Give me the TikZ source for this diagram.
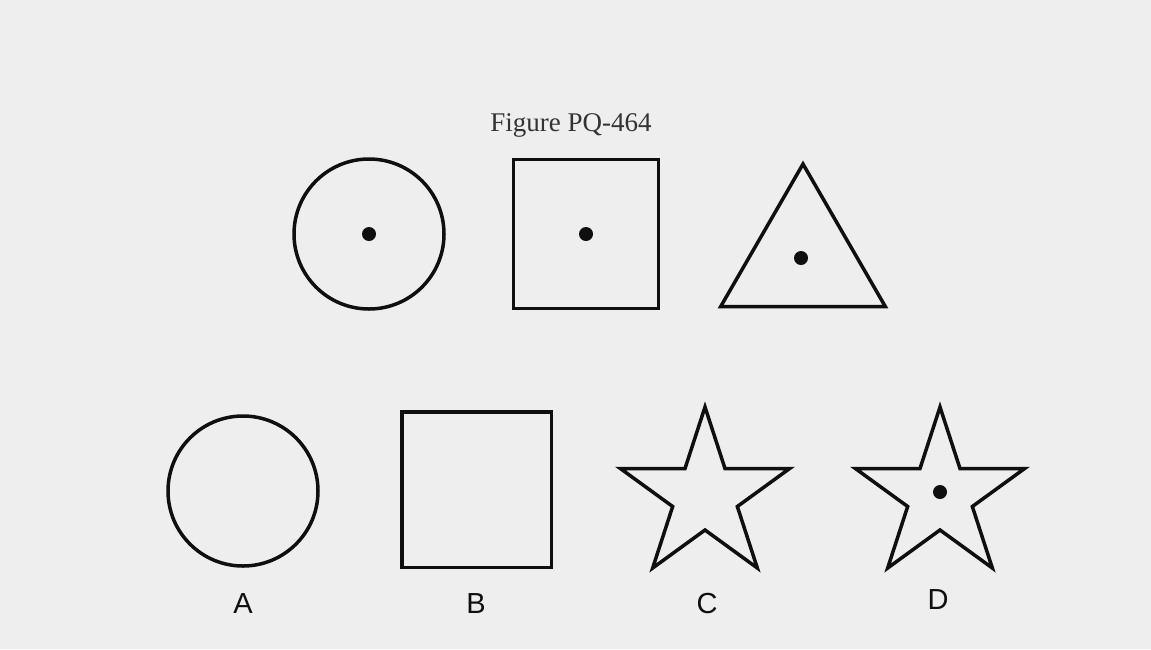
\documentclass[tikz,border=0pt]{standalone}
\usepackage{fontspec}
\setmainfont{Liberation Serif}
\setsansfont{Liberation Sans}
\usetikzlibrary{shapes.geometric, positioning}
\definecolor{paper}{RGB}{238,238,238}
\definecolor{ink}{RGB}{15,15,15}

\begin{document}
\begin{tikzpicture}[
    x=1pt, y=-1pt,
    figure/.style={draw=ink, line width=3.5pt, inner sep=0pt, outer sep=0pt},
    roundshape/.style={figure, circle, minimum size=150pt},
    boxshape/.style={figure, rectangle, minimum width=145pt, minimum height=149pt},
    trishape/.style={figure, regular polygon, regular polygon sides=3, minimum size=190pt},
    starshape/.style={figure, star, star points=5, star point ratio=2.618, minimum size=178pt},
    dot/.style={circle, fill=ink, inner sep=0pt, minimum size=14pt},
    choice/.style={font=\sffamily\fontsize{29}{31}\selectfont, text=ink},
    title/.style={font=\fontsize{27}{30}\selectfont, text=ink!85}
]

    % Background
    \fill[paper] (0,0) rectangle (1151,649);
    \useasboundingbox (0,0) rectangle (1151,649);

    % Title
    \node[title] (title) at (571,125) {Figure PQ-464};

    % Question row
    \node[roundshape] (qcircle) at (369,234) {};
    \node[dot] (qcircledot) at (qcircle.center) {};
    \node[boxshape] (qbox) at (586,234) {};
    \node[dot] (qboxdot) at (qbox.center) {};
    \node[trishape] (qtri) at (803,259) {};
    \node[dot] (qtridot) at (801,258) {};

    % Answer row
    \node[roundshape] (acircle) at (243,491) {};
    \node[boxshape, minimum width=149.5pt, minimum height=155.5pt] (bbox) at (476.5,489.5) {};
    \node[starshape] (cstar) at (705,496) {};
    \node[starshape] (dstar) at (940,496) {};
    \node[dot] (dstardot) at (940,492) {};

    % Choice labels
    \node[choice] (labA) at (243,604) {A};
    \node[choice] (labB) at (476,604) {B};
    \node[choice] (labC) at (707,604) {C};
    \node[choice] (labD) at (938,600) {D};

\end{tikzpicture}
\end{document}
